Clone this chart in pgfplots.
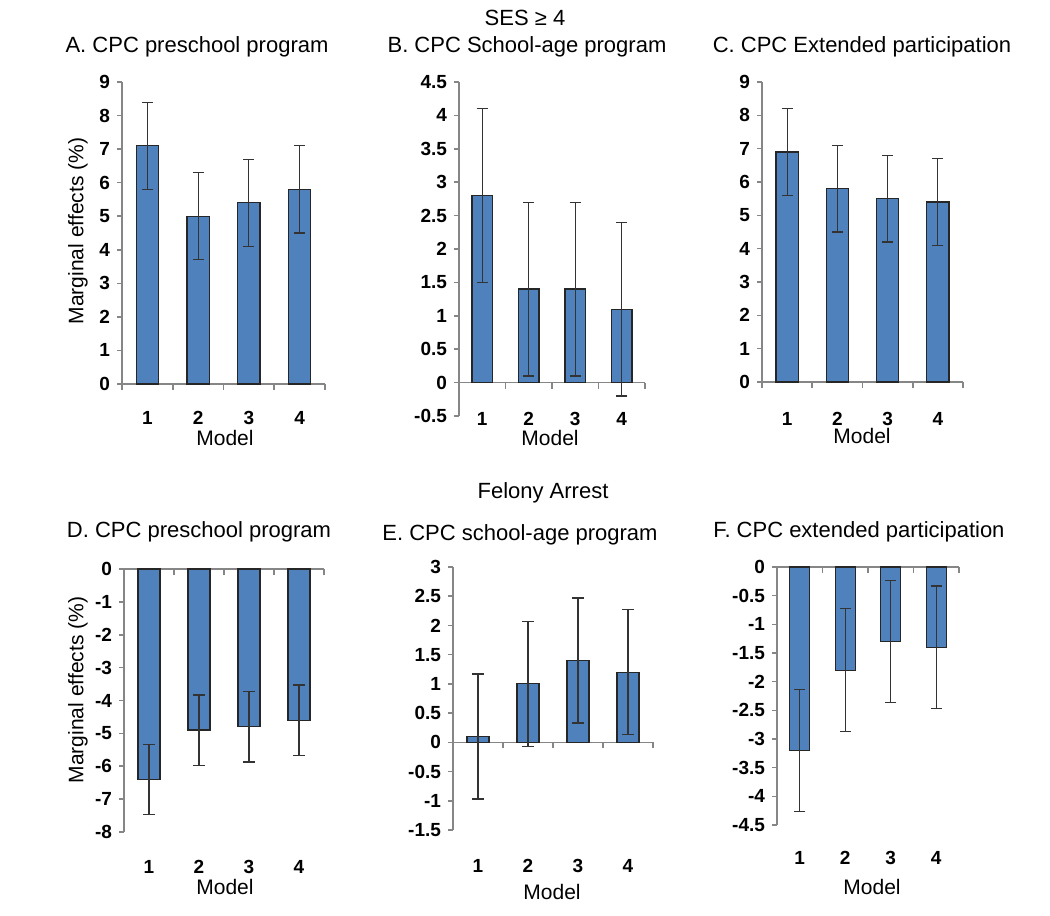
\documentclass[border=0pt]{standalone}
\usepackage{pgfplots}
\pgfplotsset{compat=1.18}
\usepackage{fontspec}
\setmainfont{Liberation Sans}
\definecolor{barblue}{HTML}{4F81BD}
\definecolor{axgray}{HTML}{868686}
\pgfplotsset{
  cpcpanel/.style={
    scale only axis,
    anchor=north west,
    axis x line=middle,
    axis y line=left,
    axis line style={axgray, line width=0.8pt, -},
    x axis line style={-},
    y axis line style={-},
    xmin=0.5, xmax=4.5,
    xtick={1,2,3,4},
    xticklabels={1,2,3,4},
    minor xtick={0.5,1.5,2.5,3.5,4.5},
    major x tick style={draw=none},
    minor x tick style={axgray, line width=0.8pt},
    y tick style={axgray, line width=0.8pt},
    tick align=outside,
    major tick length=2.5pt,
    minor tick length=3pt,
    /pgf/number format/assume math mode=true,
    ticklabel style={font=\bfseries\fontsize{9.5}{11}\selectfont, text=black},
    xticklabel style={anchor=center},
    clip=false,
    ybar, bar width=0.44,
  },
  bars/.style={fill=barblue, draw=black!85, line width=0.6pt,
    error bars/.cd, y dir=both, y explicit,
    error bar style={black!80, line width=0.6pt},
    error mark options={black!80, line width=0.6pt, mark size=2.8pt, rotate=90}},
}
\begin{document}
\begin{tikzpicture}
\path (0pt,0pt) rectangle (525pt,-458pt);
% A
\begin{axis}[cpcpanel, at={(61pt,-41pt)}, width=101.5pt, height=151pt,
  ymin=0, ymax=9, ytick={0,1,2,3,4,5,6,7,8,9}, xticklabel style={yshift=-14.5pt}]
\addplot[bars] table[x=x,y=y,y error=e] {
x y e
1 7.1 1.3
2 5.0 1.3
3 5.4 1.3
4 5.8 1.3
};
\end{axis}
% B
\begin{axis}[cpcpanel, at={(229.5pt,-41pt)}, width=93pt, height=167pt,
  ymin=-0.5, ymax=4.5, ytick={-0.5,0,0.5,1,1.5,2,2.5,3,3.5,4,4.5}, xticklabel style={yshift=-15.5pt}]
\addplot[bars] table[x=x,y=y,y error=e] {
x y e
1 2.8 1.3
2 1.4 1.3
3 1.4 1.3
4 1.1 1.3
};
\end{axis}
% C
\begin{axis}[cpcpanel, at={(381pt,-41pt)}, width=100.5pt, height=150pt,
  ymin=0, ymax=9, ytick={0,1,2,3,4,5,6,7,8,9}, xticklabel style={yshift=-16pt}]
\addplot[bars] table[x=x,y=y,y error=e] {
x y e
1 6.9 1.3
2 5.8 1.3
3 5.5 1.3
4 5.4 1.3
};
\end{axis}
% D
\begin{axis}[cpcpanel, at={(62pt,-284.5pt)}, width=100pt, height=131.5pt,
  ymin=-8, ymax=0, ytick={-8,-7,-6,-5,-4,-3,-2,-1,0}, xticklabel style={yshift=-146.5pt}]
\addplot[bars] table[x=x,y=y,y error=e] {
x y e
1 -6.4 1.07
2 -4.9 1.07
3 -4.8 1.07
4 -4.6 1.07
};
\end{axis}
% E
\begin{axis}[cpcpanel, at={(226.5pt,-283.5pt)}, width=100pt, height=131.5pt,
  ymin=-1.5, ymax=3, ytick={-1.5,-1,-0.5,0,0.5,1,1.5,2,2.5,3}, xticklabel style={yshift=-59.5pt}]
\addplot[bars] table[x=x,y=y,y error=e] {
x y e
1 0.1 1.07
2 1.0 1.07
3 1.4 1.07
4 1.2 1.07
};
\end{axis}
% F
\begin{axis}[cpcpanel, at={(388.5pt,-283.5pt)}, width=91pt, height=129pt,
  ymin=-4.5, ymax=0, ytick={-4.5,-4,-3.5,-3,-2.5,-2,-1.5,-1,-0.5,0}, xticklabel style={yshift=-143pt}]
\addplot[bars] table[x=x,y=y,y error=e] {
x y e
1 -3.2 1.07
2 -1.8 1.07
3 -1.3 1.07
4 -1.4 1.07
};
\end{axis}
% titles and labels
\begin{scope}[every node/.style={font=\fontsize{11}{13}\selectfont, inner sep=0pt}]
\node at (262.5pt,-9pt) {SES ≥ 4};
\node at (98.5pt,-23.5pt) {A. CPC preschool program};
\node at (263.5pt,-23.5pt) {B. CPC School-age program};
\node at (431pt,-23.5pt) {C. CPC Extended participation};
\node at (271.5pt,-246.5pt) {Felony Arrest};
\node at (99.5pt,-266pt) {D. CPC preschool program};
\node at (260pt,-267.5pt) {E. CPC school-age program};
\node at (429.5pt,-266pt) {F. CPC extended participation};
\end{scope}
\begin{scope}[every node/.style={font=\fontsize{10.5}{12}\selectfont, inner sep=0pt}]
\node at (112.5pt,-219pt) {Model};
\node at (275pt,-219pt) {Model};
\node at (431pt,-218pt) {Model};
\node at (112.5pt,-443.5pt) {Model};
\node at (276pt,-446pt) {Model};
\node at (436pt,-443.5pt) {Model};
\node[rotate=90] at (39pt,-115.5pt) {Marginal effects (\%)};
\node[rotate=90] at (39pt,-345pt) {Marginal effects (\%)};
\end{scope}
\end{tikzpicture}
\end{document}
